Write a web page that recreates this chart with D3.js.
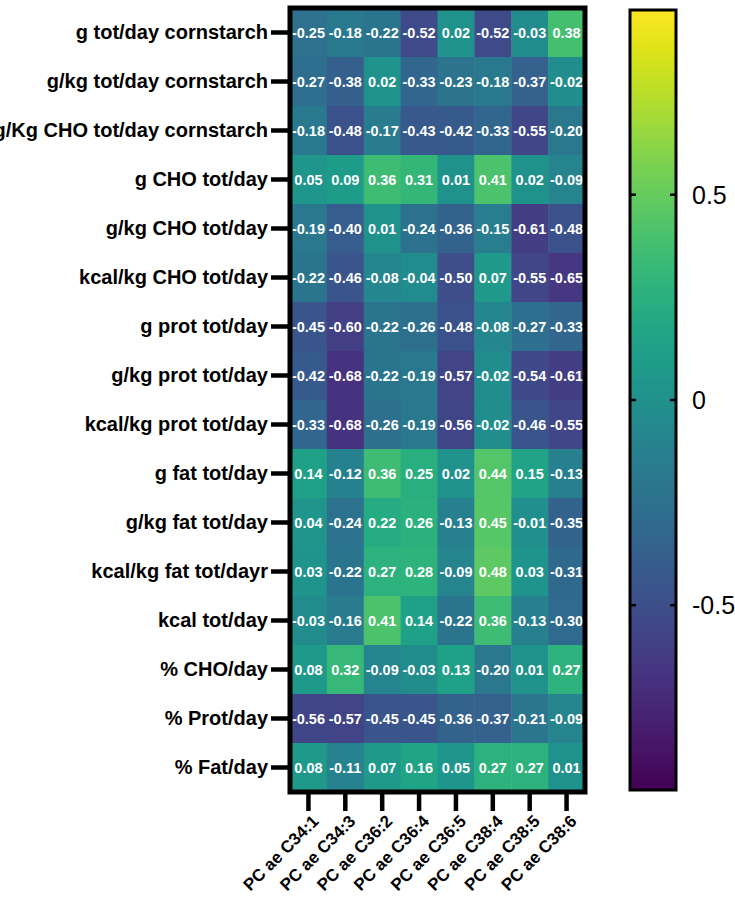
<!DOCTYPE html>
<html>
<head>
<meta charset="utf-8">
<script src="https://cdn.jsdelivr.net/npm/d3@7"></script>
<style>
  body { margin: 0; background: #fff; }
  svg { display: block; }
</style>
</head>
<body>
<div id="chart_heatmap"></div>
<script>
// row labels (top to bottom)
var rowLabels = [
    "g tot/day cornstarch",
    "g/kg tot/day cornstarch",
    "g/Kg CHO tot/day cornstarch",
    "g CHO tot/day",
    "g/kg CHO tot/day",
    "kcal/kg CHO tot/day",
    "g prot tot/day",
    "g/kg prot tot/day",
    "kcal/kg prot tot/day",
    "g fat tot/day",
    "g/kg fat tot/day",
    "kcal/kg fat tot/dayr",
    "kcal tot/day",
    "% CHO/day",
    "% Prot/day",
    "% Fat/day"
];

// column labels
var colLabels = [
    "PC ae C34:1", "PC ae C34:3", "PC ae C36:2", "PC ae C36:4",
    "PC ae C36:5", "PC ae C38:4", "PC ae C38:5", "PC ae C38:6"
];

// correlation values, one list per row
var values = [
    [-0.25, -0.18, -0.22, -0.52, 0.02, -0.52, -0.03, 0.38],
    [-0.27, -0.38, 0.02, -0.33, -0.23, -0.18, -0.37, -0.02],
    [-0.18, -0.48, -0.17, -0.43, -0.42, -0.33, -0.55, -0.20],
    [0.05, 0.09, 0.36, 0.31, 0.01, 0.41, 0.02, -0.09],
    [-0.19, -0.40, 0.01, -0.24, -0.36, -0.15, -0.61, -0.48],
    [-0.22, -0.46, -0.08, -0.04, -0.50, 0.07, -0.55, -0.65],
    [-0.45, -0.60, -0.22, -0.26, -0.48, -0.08, -0.27, -0.33],
    [-0.42, -0.68, -0.22, -0.19, -0.57, -0.02, -0.54, -0.61],
    [-0.33, -0.68, -0.26, -0.19, -0.56, -0.02, -0.46, -0.55],
    [0.14, -0.12, 0.36, 0.25, 0.02, 0.44, 0.15, -0.13],
    [0.04, -0.24, 0.22, 0.26, -0.13, 0.45, -0.01, -0.35],
    [0.03, -0.22, 0.27, 0.28, -0.09, 0.48, 0.03, -0.31],
    [-0.03, -0.16, 0.41, 0.14, -0.22, 0.36, -0.13, -0.30],
    [0.08, 0.32, -0.09, -0.03, 0.13, -0.20, 0.01, 0.27],
    [-0.56, -0.57, -0.45, -0.45, -0.36, -0.37, -0.21, -0.09],
    [0.08, -0.11, 0.07, 0.16, 0.05, 0.27, 0.27, 0.01]
];

// colour bar range and ticks
var colorRange = [-0.95, 0.95];
var colorTicks = [-0.5, 0, 0.5];

var info = { width: 735, height: 897, divId: "#chart_heatmap" };

drawHeatmap();

function drawHeatmap() {
    // plot area
    var left = 290, right = 585, top = 8, bottom = 792;
    var font = "'Liberation Sans', Arial, Helvetica, sans-serif";

    var svg = d3.select(info.divId).append("svg")
        .attr("width", info.width)
        .attr("height", info.height)
        .style("font-family", font);

    var x = d3.scaleBand().domain(colLabels).range([left, right]);
    var y = d3.scaleBand().domain(rowLabels).range([top, bottom]);
    var color = d3.scaleSequential(d3.interpolateViridis).domain(colorRange);

    // flatten cells
    var cells = [];
    values.forEach(function(row, i) {
        row.forEach(function(v, j) {
            cells.push({ row: rowLabels[i], col: colLabels[j], value: v });
        });
    });

    svg.append("g").attr("class", "cells")
        .selectAll("rect")
        .data(cells)
        .enter().append("rect")
        .attr("x", function(d) { return x(d.col); })
        .attr("y", function(d) { return y(d.row); })
        .attr("width", x.bandwidth() + 0.5)
        .attr("height", y.bandwidth() + 0.5)
        .style("fill", function(d) { return color(d.value); });

    svg.append("g").attr("class", "cell-text")
        .selectAll("text")
        .data(cells)
        .enter().append("text")
        .attr("x", function(d) { return x(d.col) + x.bandwidth() / 2; })
        .attr("y", function(d) { return y(d.row) + y.bandwidth() / 2; })
        .attr("dy", "0.36em")
        .attr("text-anchor", "middle")
        .style("fill", "#fff")
        .style("font-weight", "bold")
        .style("font-size", "14.5px")
        .text(function(d) { return d.value.toFixed(2); });

    // y axis
    var yAxis = svg.append("g")
        .attr("transform", "translate(" + left + ",0)")
        .call(d3.axisLeft(y).tickSize(19).tickPadding(3));
    yAxis.select(".domain").remove();
    yAxis.selectAll(".tick line").style("stroke", "#000").style("stroke-width", 4.5);
    yAxis.selectAll(".tick text")
        .style("font-family", font)
        .style("font-size", "20px")
        .style("font-weight", "bold")
        .style("fill", "#000");

    // x axis
    var xAxis = svg.append("g")
        .attr("transform", "translate(0," + bottom + ")")
        .call(d3.axisBottom(x).tickSize(19).tickPadding(0));
    xAxis.select(".domain").remove();
    xAxis.selectAll(".tick line").style("stroke", "#000").style("stroke-width", 4.5);
    xAxis.selectAll(".tick text")
        .style("font-family", font)
        .style("font-size", "17px")
        .style("font-weight", "bold")
        .style("fill", "#000")
        .attr("x", 0)
        .attr("y", 0)
        .attr("dy", "0.35em")
        .attr("text-anchor", "end")
        .attr("transform", "translate(7,26) rotate(-45)");

    // frame
    svg.append("rect")
        .attr("x", left).attr("y", top)
        .attr("width", right - left).attr("height", bottom - top)
        .style("fill", "none")
        .style("stroke", "#000")
        .style("stroke-width", 5);

    // colour bar
    var barX = 630, barW = 46;
    var cy = d3.scaleLinear().domain(colorRange).range([bottom - 2, top + 2]);

    var grad = svg.append("defs").append("linearGradient")
        .attr("id", "viridisGrad")
        .attr("x1", 0).attr("y1", 1).attr("x2", 0).attr("y2", 0);
    d3.range(0, 1.0001, 0.05).forEach(function(t) {
        grad.append("stop")
            .attr("offset", t)
            .attr("stop-color", d3.interpolateViridis(t));
    });

    svg.append("rect")
        .attr("x", barX).attr("y", cy(colorRange[1]))
        .attr("width", barW).attr("height", cy(colorRange[0]) - cy(colorRange[1]))
        .style("fill", "url(#viridisGrad)")
        .style("stroke", "#000")
        .style("stroke-width", 3);

    var cbTicks = svg.append("g").selectAll("g")
        .data(colorTicks)
        .enter().append("g")
        .attr("transform", function(d) { return "translate(0," + cy(d) + ")"; });

    cbTicks.append("line")
        .attr("x1", barX).attr("x2", barX + 6)
        .style("stroke", "#000").style("stroke-width", 2.5);
    cbTicks.append("line")
        .attr("x1", barX + barW - 6).attr("x2", barX + barW)
        .style("stroke", "#000").style("stroke-width", 2.5);
    cbTicks.append("text")
        .attr("x", 692)
        .attr("dy", "0.36em")
        .style("font-size", "25px")
        .style("fill", "#000")
        .text(function(d) { return d; });
}
</script>
</body>
</html>
